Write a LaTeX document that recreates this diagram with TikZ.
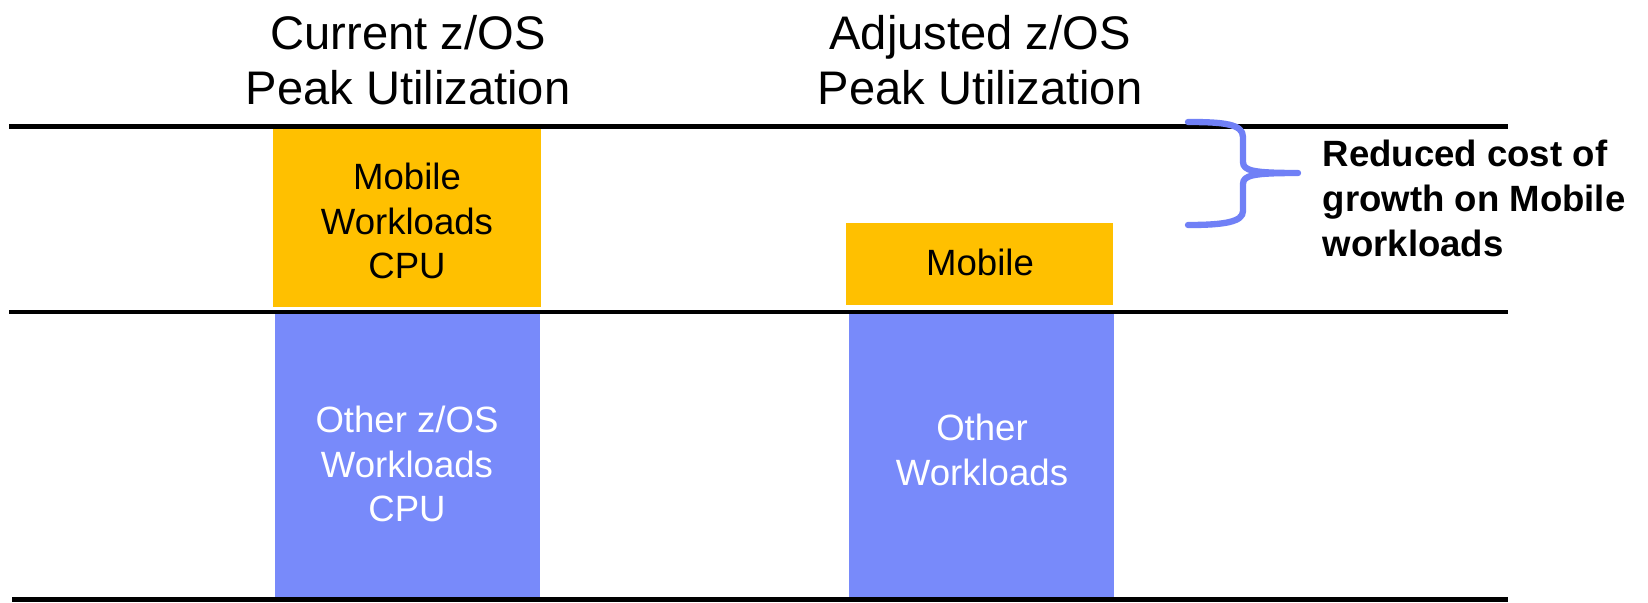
\documentclass[tikz,border=0pt]{standalone}
\usepackage{fontspec}
\setmainfont{Liberation Sans}
\definecolor{barorange}{RGB}{255,192,0}
\definecolor{barblue}{RGB}{120,138,250}
\definecolor{bracecol}{RGB}{112,128,246}
\begin{document}
\begin{tikzpicture}[x=0.01cm,y=-0.01cm,
  bar/.style={rectangle,inner sep=0pt,draw=none},
  title/.style={align=center,inner sep=0pt,font=\fontsize{13.4}{15.8}\selectfont},
  bartext/.style={align=center,inner sep=0pt,font=\fontsize{10.4}{12.7}\selectfont},
  rule/.style={line width=1.4pt,black},
  note/.style={align=left,inner sep=0pt,font=\fontsize{10.4}{12.8}\selectfont\bfseries}]
\useasboundingbox (0,0) rectangle (1648,603);
\fill[white] (0,0) rectangle (1648,603);
% bars
\node[bar,fill=barorange,minimum width=2.68cm,minimum height=1.78cm] (lo) at (407,218) {};
\node[bar,fill=barblue,minimum width=2.65cm,minimum height=2.86cm] (lb) at (407.5,457) {};
\node[bar,fill=barorange,minimum width=2.67cm,minimum height=0.82cm] (ro) at (979.5,264) {};
\node[bar,fill=barblue,minimum width=2.65cm,minimum height=2.87cm] (rb) at (981.5,453.5) {};
% bar texts
\node[bartext] (lot) at (407,221) {Mobile\\Workloads\\CPU};
\node[bartext,text=white] (lbt) at (407,464) {Other z/OS\\Workloads\\CPU};
\node[bartext] (rot) at (980,262) {Mobile};
\node[bartext,text=white] (rbt) at (982,450) {Other\\Workloads};
% titles
\node[title] (t1) at (408,60) {Current z/OS\\Peak Utilization};
\node[title] (t2) at (980,60) {Adjusted z/OS\\Peak Utilization};
% rules
\coordinate (r1a) at (9,126.5);  \coordinate (r1b) at (1508,126.5);
\coordinate (r2a) at (9,312);    \coordinate (r2b) at (1508,312);
\coordinate (r3a) at (12,599.5); \coordinate (r3b) at (1508,599.5);
\draw[rule] (r1a) -- (r1b);
\draw[rule] (r2a) -- (r2b);
\draw[rule] (r3a) -- (r3b);
% brace
\draw[bracecol,line width=1.8pt,line cap=round,line join=round]
  (1188,122) .. controls (1224,122) and (1243,124) .. (1243,137)
  -- (1243,162) .. controls (1243,171) and (1254,173) .. (1298,173)
  .. controls (1254,173) and (1243,175) .. (1243,184)
  -- (1243,211) .. controls (1243,222) and (1224,225) .. (1188,225);
% note
\node[note,anchor=north west] (note) at (1322,139) {Reduced cost of\\growth on Mobile\\workloads};
\end{tikzpicture}
\end{document}
